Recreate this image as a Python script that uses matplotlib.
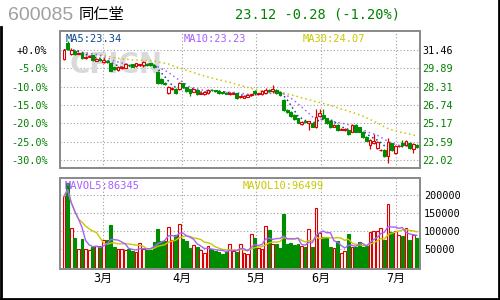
import numpy as np
import pandas as pd
import matplotlib
matplotlib.use('Agg')
import matplotlib.pyplot as plt
from matplotlib.lines import Line2D

plt.rcParams['font.family'] = ['DejaVu Sans Mono', 'Noto Sans CJK SC']

code = '600085'
name = '同仁堂'
quote = '23.12 -0.28 (-1.20%)'
base_price = 31.46

opens = [30.66, 32.09, 31.12, 31.41, 31.15, 31.18, 30.78, 30.89, 31.01, 30.55,
         30.72, 30.43, 30.55, 30.32, 29.98, 29.75, 29.92, 29.95, 30.21, 30.23,
         30.09, 30.18, 30.18, 30.23, 30.32, 30.18, 29.61, 28.95, 28.66, 27.80,
         28.15, 28.09, 28.09, 28.60, 28.26, 28.09, 27.89, 28.03, 27.72, 27.69,
         27.75, 28.06, 28.00, 27.95, 27.83, 27.77, 27.69, 27.72, 27.75, 27.43,
         27.37, 27.46, 27.60, 27.95, 27.69, 27.69, 27.80, 28.03, 27.95, 28.03,
         27.89, 27.17, 26.32, 26.17, 25.89, 25.60, 25.11, 25.34, 25.17, 25.17,
         24.83, 25.80, 25.89, 25.60, 25.40, 24.89, 25.03, 24.63, 24.63, 24.60,
         24.46, 25.03, 24.83, 24.46, 24.03, 23.31, 23.46, 23.03, 22.86, 22.88,
         22.37, 23.46, 22.66, 23.23, 23.46, 23.31, 23.51, 23.00, 23.31]
closes = [31.46, 31.55, 31.46, 31.12, 31.21, 30.75, 30.86, 30.98, 30.61, 30.72,
          30.61, 30.61, 30.43, 29.69, 29.81, 30.03, 29.98, 30.23, 30.15, 30.03,
          30.32, 30.23, 30.46, 30.18, 30.15, 29.98, 28.60, 28.60, 28.58, 28.26,
          28.20, 27.75, 28.66, 28.26, 27.97, 27.75, 28.09, 27.66, 27.77, 27.89,
          28.03, 28.00, 27.95, 27.75, 27.77, 27.72, 27.77, 27.75, 27.32, 27.49,
          27.55, 27.63, 27.66, 27.75, 27.75, 27.97, 28.03, 27.95, 28.12, 27.75,
          27.60, 26.32, 26.14, 25.80, 25.51, 25.23, 25.31, 25.26, 25.34, 24.89,
          25.69, 26.09, 25.60, 25.17, 24.83, 25.03, 24.60, 24.69, 24.69, 24.26,
          25.03, 24.46, 24.46, 23.97, 23.68, 23.74, 23.68, 23.60, 22.91, 22.37,
          23.60, 22.88, 23.23, 23.26, 23.31, 23.68, 23.03, 23.40, 23.12]
highs = [31.55, 32.26, 31.61, 31.46, 31.29, 31.24, 30.95, 31.06, 31.06, 30.78,
         30.78, 30.78, 30.61, 30.38, 30.03, 30.09, 30.06, 30.32, 30.29, 30.29,
         30.38, 30.29, 30.55, 30.29, 30.38, 30.23, 29.66, 29.03, 28.75, 28.38,
         28.32, 28.17, 28.75, 28.66, 28.32, 28.15, 28.15, 28.09, 27.83, 27.95,
         28.09, 28.12, 28.06, 28.00, 27.89, 27.83, 27.83, 27.80, 27.80, 27.55,
         27.60, 27.69, 27.72, 28.00, 27.80, 28.03, 28.17, 28.09, 28.46, 28.09,
         27.95, 27.23, 26.37, 26.23, 25.95, 25.66, 25.37, 25.40, 25.40, 25.23,
         26.37, 26.37, 26.37, 25.66, 25.46, 25.09, 25.09, 24.75, 24.75, 24.66,
         25.09, 25.09, 24.89, 24.52, 24.09, 23.80, 24.26, 23.66, 22.97, 22.94,
         23.88, 23.51, 23.29, 23.34, 23.74, 23.74, 23.57, 23.46, 23.40]
lows = [30.60, 31.46, 31.06, 31.06, 31.09, 30.69, 30.72, 30.83, 30.55, 30.49,
        30.55, 30.35, 30.38, 29.63, 29.75, 29.69, 29.83, 29.89, 30.06, 29.98,
        30.03, 30.09, 30.03, 30.09, 30.09, 29.92, 28.55, 28.55, 28.46, 27.72,
        28.03, 27.66, 28.03, 28.17, 27.89, 27.52, 27.83, 27.60, 27.66, 27.63,
        27.69, 27.95, 27.89, 27.69, 27.72, 27.66, 27.63, 27.66, 27.26, 27.37,
        27.32, 27.40, 27.55, 27.69, 27.63, 27.63, 27.75, 27.89, 27.75, 27.69,
        27.55, 26.26, 26.09, 25.74, 25.46, 25.17, 25.06, 25.20, 24.60, 24.83,
        24.77, 25.69, 25.54, 25.11, 24.77, 24.83, 24.54, 24.57, 24.54, 24.20,
        24.40, 24.40, 24.40, 23.91, 23.62, 22.94, 23.40, 22.97, 22.80, 22.31,
        21.80, 22.82, 22.54, 23.17, 23.11, 23.26, 22.97, 22.66, 23.06]
volumes = [197000, 235000, 108000, 80000, 50000, 77000, 50000, 47000, 55000, 57000,
           57000, 75000, 74000, 117000, 55000, 50000, 50000, 47000, 50000, 44000,
           41000, 66000, 50000, 47000, 47000, 69000, 106000, 71000, 73000, 111000,
           75000, 89000, 119000, 77000, 73000, 53000, 61000, 54000, 47000, 38000,
           57000, 50000, 44000, 41000, 35000, 41000, 64000, 44000, 41000, 63000,
           38000, 35000, 91000, 80000, 52000, 50000, 113000, 103000, 63000, 63000,
           52000, 147000, 63000, 66000, 60000, 63000, 57000, 55000, 105000, 54000,
           164000, 94000, 82000, 80000, 55000, 52000, 71000, 38000, 44000, 91000,
           55000, 55000, 68000, 55000, 57000, 97000, 101000, 99000, 108000, 75000,
           176000, 97000, 99000, 89000, 87000, 108000, 75000, 88000, 80000]

month_labels = ['3月', '4月', '5月', '6月', '7月']
month_idx = [10.8, 32.8, 53.3, 71.4, 92.2]
pct_levels = [0, -5, -10, -15, -20, -25, -30]
vol_ticks = [50000, 100000, 150000, 200000]
ma_text = ['MA5:23.34', 'MA10:23.23', 'MA30:24.07']
mavol_text = ['MAVOL5:86345', 'MAVOL10:96499']

RED = '#dd0000'
GREEN = '#008c00'
TXT_GREEN = '#008000'
GRID = '#a0a0a0'
C_MA5 = '#0b4a8c'
C_MA10 = '#a860ff'
C_MA30 = '#c8c800'

df = pd.DataFrame({'o': opens, 'c': closes, 'h': highs, 'l': lows, 'v': volumes})
x = np.arange(len(df))
ma5 = df.c.rolling(5, min_periods=1).mean()
ma10 = df.c.rolling(10, min_periods=1).mean()
ma30 = df.c.rolling(30, min_periods=1).mean()
mv5 = df.v.rolling(5, min_periods=1).mean()
mv10 = df.v.rolling(10, min_periods=1).mean()

fig = plt.figure(figsize=(5, 3), dpi=100)
ax = fig.add_axes([0.12, 0.44, 0.72, 0.4567])
axv = fig.add_axes([0.12, 0.1033, 0.72, 0.3033])

xlim = (-1.11, 98.9)
dot = (0, (1, 2))

# price panel
levels = [base_price * (1 + p / 100) for p in pct_levels]
ax.set_xlim(*xlim)
ax.set_ylim(21.34, 33.09)
for lv in levels:
    ax.axhline(lv, color=GRID, lw=0.8, ls=dot, zorder=0)
for m in month_idx:
    ax.axvline(m, color=GRID, lw=0.8, ls=dot, zorder=0)

ax.text(0.028, 0.75, 'CFICN', transform=ax.transAxes, fontsize=20, fontweight='bold',
        family='DejaVu Sans', color='#d9d9d9', va='center', zorder=1)

ax.plot(x, ma30, color=C_MA30, lw=1.1, ls=dot, zorder=2)
ax.plot(x, ma10, color=C_MA10, lw=1.1, ls=dot, zorder=2)
ax.plot(x, ma5, color=C_MA5, lw=1.1, ls=dot, zorder=2)

up = (df.c >= df.o).values
col = np.where(up, RED, GREEN)
body_lo = np.minimum(df.o, df.c)
body_h = np.maximum((df.c - df.o).abs(), 0.03)
ax.vlines(x, df.l, df.h, colors=col, lw=0.9, zorder=3)
ax.bar(x, body_h, bottom=body_lo, width=0.8, color=np.where(up, 'white', GREEN),
       edgecolor=col, lw=0.8, zorder=4)

ax.set_yticks(levels)
ax.set_yticklabels(['%+.1f%%' % p if p == 0 else '%.1f%%' % p for p in pct_levels])
for i, t in enumerate(ax.get_yticklabels()):
    t.set_color('black' if i == 0 else TXT_GREEN)
ax.tick_params(axis='y', length=0, pad=9, labelsize=7.3)
ax.set_xticks([])

axr = ax.twinx()
axr.set_ylim(ax.get_ylim())
axr.set_yticks(levels)
axr.set_yticklabels(['%.2f' % lv for lv in levels])
for i, t in enumerate(axr.get_yticklabels()):
    t.set_color('black' if i == 0 else TXT_GREEN)
axr.tick_params(axis='y', length=0, pad=1.5, labelsize=7.3)

ax.text(0.016, 0.94, ma_text[0], transform=ax.transAxes, color=C_MA5, fontsize=7.5, va='center')
ax.text(0.344, 0.94, ma_text[1], transform=ax.transAxes, color=C_MA10, fontsize=7.5, va='center')
ax.text(0.674, 0.94, ma_text[2], transform=ax.transAxes, color=C_MA30, fontsize=7.5, va='center')

# volume panel
vmin = -7000
axv.set_xlim(*xlim)
axv.set_ylim(vmin, 248600)
for vt in vol_ticks:
    axv.axhline(vt, color=GRID, lw=0.8, ls=dot, zorder=0)
for m in month_idx:
    axv.axvline(m, color=GRID, lw=0.8, ls=dot, zorder=0)
axv.bar(x, df.v - vmin, bottom=vmin, width=0.8, color=np.where(up, 'white', GREEN),
        edgecolor=col, lw=0.8, zorder=3)
axv.plot(x, mv10, color=C_MA30, lw=1.0, zorder=4)
axv.plot(x, mv5, color=C_MA10, lw=1.0, zorder=4)

axv.set_xticks(month_idx)
axv.set_xticklabels(month_labels, fontsize=8.5)
axv.tick_params(axis='x', length=0, pad=2)
axv.set_yticks([])
axvr = axv.twinx()
axvr.set_ylim(axv.get_ylim())
axvr.set_yticks(vol_ticks)
axvr.set_yticklabels([str(v) for v in vol_ticks])
axvr.tick_params(axis='y', length=0, pad=3, labelsize=7.3)

axv.text(0.014, 0.912, mavol_text[0], transform=axv.transAxes, color=C_MA10, fontsize=7.5, va='center')
axv.text(0.5075, 0.912, mavol_text[1], transform=axv.transAxes, color=C_MA30, fontsize=7.5, va='center')

for a in (ax, axr, axv, axvr):
    for s in a.spines.values():
        s.set_color('#8c8c8c')
        s.set_linewidth(1.4)

# header
fig.text(0.016, 0.95, code, color='#a0a0a0', fontsize=14, family='Liberation Sans', va='center')
fig.text(0.158, 0.95, name, color='black', fontsize=11, family='Noto Sans CJK SC', va='center')
fig.text(0.47, 0.95, quote, color=TXT_GREEN, fontsize=9.8, va='center')

# outer frame: left side starts below the header, right and bottom full
frame_top = 1 - 27 / 300
fig.add_artist(Line2D([0.002, 0.002], [0.002, frame_top], transform=fig.transFigure,
                      color='black', lw=2))
fig.add_artist(Line2D([0.0, 0.998, 0.998], [0.002, 0.002, 1.0], transform=fig.transFigure,
                      color='black', lw=2))

fig.savefig('out.png', dpi=100)
